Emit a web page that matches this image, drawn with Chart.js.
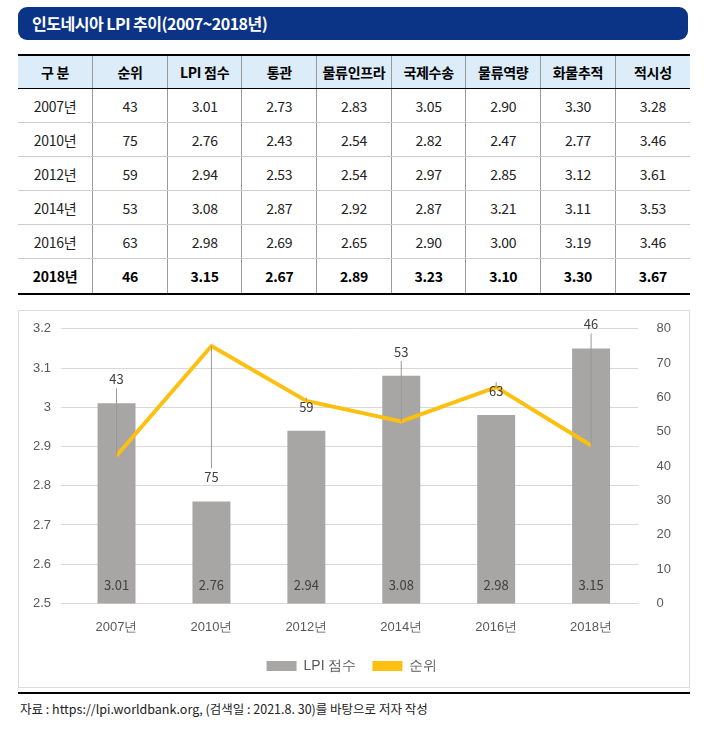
<!DOCTYPE html>
<html><head><meta charset="utf-8">
<script src="https://cdn.jsdelivr.net/npm/chart.js@4"></script>
<style>
body{margin:0;width:707px;height:741px;background:#fff;font-family:"Noto Sans CJK KR","Noto Sans",sans-serif;position:relative}
#title{position:absolute;left:18px;top:7px;width:670px;height:33px;background:#0b3486;border-radius:9px;color:#fff;font-size:16px;font-weight:bold;line-height:33px;box-sizing:border-box;padding-left:14px;letter-spacing:-0.5px}
table{position:absolute;left:18px;top:54px;width:672px;border-collapse:collapse;table-layout:fixed;font-size:14px;letter-spacing:-0.3px}
th{background:#dcecf8;height:32px;border-top:2px solid #000;border-bottom:1px solid #000;font-weight:bold;padding:0}
td{height:33px;text-align:center;border-bottom:1px solid #ccc;color:#222;padding:0}
th,td{border-left:1px solid #999}
th:first-child,td:first-child{border-left:none}
tr.last td{font-weight:bold;border-bottom:2px solid #000;color:#000;height:34px}
#box{position:absolute;left:18px;top:310px;width:672px;height:378px;border:1px solid #ddd;box-sizing:border-box}
#rule{position:absolute;left:18px;top:692px;width:672px;height:2px;background:#000}
#src{position:absolute;left:20px;top:699px;font-size:12.5px;color:#222}
</style></head><body>
<div id="title">인도네시아 LPI 추이(2007~2018년)</div>
<table id="tbl"></table>
<div id="box"><canvas id="c"></canvas></div>
<div id="rule"></div>
<div id="src">자료 : https://lpi.worldbank.org, (검색일 : 2021.8. 30)를 바탕으로 저자 작성</div>
<script>
const headers = ['구 분','순위','LPI 점수','통관','물류인프라','국제수송','물류역량','화물추적','적시성'];
const years = ['2007년','2010년','2012년','2014년','2016년','2018년'];
const rank = [43, 75, 59, 53, 63, 46];
const lpi = [3.01, 2.76, 2.94, 3.08, 2.98, 3.15];
const customs = ['2.73','2.43','2.53','2.87','2.69','2.67'];
const infra = ['2.83','2.54','2.54','2.92','2.65','2.89'];
const shipping = ['3.05','2.82','2.97','2.87','2.90','3.23'];
const competence = ['2.90','2.47','2.85','3.21','3.00','3.10'];
const tracking = ['3.30','2.77','3.12','3.11','3.19','3.30'];
const timeliness = ['3.28','3.46','3.61','3.53','3.46','3.67'];

const tbl = document.getElementById('tbl');
let html = '<tr>' + headers.map(h => '<th>' + h + '</th>').join('') + '</tr>';
years.forEach((y, i) => {
  const row = [y, rank[i], lpi[i].toFixed(2), customs[i], infra[i], shipping[i], competence[i], tracking[i], timeliness[i]];
  html += '<tr' + (i === years.length - 1 ? ' class="last"' : '') + '>' + row.map(v => '<td>' + v + '</td>').join('') + '</tr>';
});
tbl.innerHTML = html;

// labels: LPI value at bar bottom, rank above bar top with leader line to the line point
const labelPlugin = {
  id: 'labels',
  afterDatasetsDraw(chart) {
    const ctx = chart.ctx;
    const bars = chart.getDatasetMeta(1).data;
    const pts = chart.getDatasetMeta(0).data;
    const bottom = chart.scales.y.bottom;
    ctx.save();
    ctx.font = '13px "Noto Sans CJK KR", sans-serif';
    ctx.textAlign = 'center';
    ctx.textBaseline = 'middle';
    bars.forEach((b, i) => {
      ctx.fillStyle = '#404040';
      ctx.fillText(lpi[i].toFixed(2), b.x, bottom - 18);
      const ly = b.y - 24;
      ctx.strokeStyle = '#999';
      ctx.lineWidth = 1;
      ctx.beginPath();
      ctx.moveTo(b.x, ly + (pts[i].y > ly ? 9 : -9));
      ctx.lineTo(pts[i].x, pts[i].y);
      ctx.stroke();
      ctx.fillText(rank[i], b.x, ly);
    });
    ctx.restore();
  }
};

new Chart(document.getElementById('c'), {
  data: {
    labels: years,
    datasets: [
      { type: 'line', label: '순위', data: rank, yAxisID: 'y1', borderColor: '#fdc010', backgroundColor: '#fdc010', borderWidth: 4, pointRadius: 0, order: 0 },
      { type: 'bar', label: 'LPI 점수', data: lpi, yAxisID: 'y', backgroundColor: '#a8a5a5', barPercentage: 0.4, categoryPercentage: 1, order: 1 }
    ]
  },
  options: {
    responsive: true, maintainAspectRatio: false, animation: false,
    layout: { padding: { top: 14, right: 8, left: 4, bottom: 4 } },
    scales: {
      x: { grid: { display: false }, border: { color: '#d9d9d9' }, ticks: { color: '#595959', font: { size: 13 }, padding: 8 } },
      y: { min: 2.5, max: 3.2, ticks: { stepSize: 0.1, color: '#595959', font: { size: 13 }, padding: 10, callback: v => String(Math.round(v * 10) / 10) }, grid: { color: '#d9d9d9' }, border: { display: false } },
      y1: { position: 'right', min: 0, max: 80, ticks: { stepSize: 10, color: '#595959', font: { size: 13 }, padding: 10 }, grid: { display: false }, border: { display: false } }
    },
    plugins: {
      legend: { position: 'bottom', reverse: true, labels: { boxWidth: 30, boxHeight: 10, color: '#595959', font: { size: 14 }, padding: 16,
        generateLabels(chart) {
          return chart.data.datasets.map((d, i) => ({ text: d.label, fillStyle: d.backgroundColor, strokeStyle: d.backgroundColor, lineWidth: 0, datasetIndex: i, fontColor: '#595959' }));
        } } },
      tooltip: { enabled: false }
    }
  },
  plugins: [labelPlugin]
});
</script>
</body></html>
